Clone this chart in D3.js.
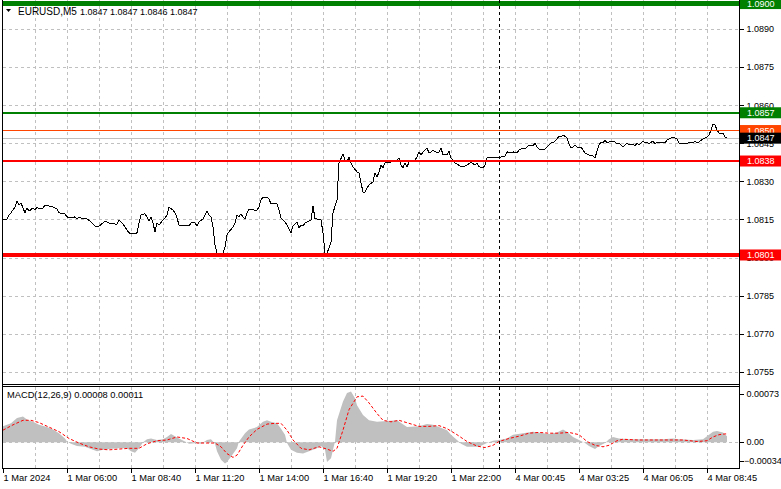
<!DOCTYPE html>
<html><head><meta charset="utf-8">
<script src="https://cdn.jsdelivr.net/npm/d3@7"></script>
<style>
html,body{margin:0;padding:0;background:#fff;}
svg{display:block;font-family:"Liberation Sans",Arial,sans-serif;}
</style>
</head><body><svg id="c" width="781" height="489"></svg>
<script>
// ---------------- DATA ----------------
const symbol = "EURUSD,M5";
const ohlc = [1.0847, 1.0847, 1.0846, 1.0847];
const macdName = "MACD(12,26,9)";
const macdLast = [0.00008, 0.00011];
const timeLabels = ["1 Mar 2024","1 Mar 06:00","1 Mar 08:40","1 Mar 11:20","1 Mar 14:00","1 Mar 16:40","1 Mar 19:20","1 Mar 22:00","4 Mar 00:45","4 Mar 03:25","4 Mar 06:05","4 Mar 08:45"];
const timeLabelBars = [0,32,64,96,128,160,192,224,256,288,320,352];
const gridBars = [16,32,48,64,80,96,112,128,144,160,176,192,208,224,240,256,272,288,304,320,336,352];
const daySeparatorBar = 248;
const priceTicks = [1.0890,1.0875,1.0860,1.0845,1.0830,1.0815,1.0800,1.0785,1.0770,1.0755];
const macdTicks = [0.00073, 0, -0.00034];
const levels = [1.0900, 1.0857, 1.0850, 1.0838, 1.0801];
const currentPrice = 1.0847;
// [bar index, close]
const priceSeries = [[0,1.08148],[2,1.08152],[3,1.08168],[4,1.08176],[6,1.08199],[7,1.08223],[8,1.08207],[9,1.08215],[10,1.08195],[11,1.08176],[12,1.08195],[13,1.08183],[15,1.08195],[16,1.08187],[17,1.08199],[18,1.08191],[20,1.08195],[21,1.08207],[23,1.08203],[25,1.08199],[27,1.08191],[28,1.08176],[31,1.08172],[32,1.08160],[34,1.08156],[36,1.08160],[37,1.08152],[38,1.08160],[40,1.08152],[42,1.08152],[44,1.08140],[46,1.08124],[48,1.08124],[50,1.08136],[51,1.08144],[53,1.08136],[56,1.08132],[57,1.08132],[58,1.08148],[60,1.08132],[61,1.08120],[63,1.08097],[65,1.08093],[67,1.08097],[68,1.08136],[69,1.08168],[71,1.08172],[72,1.08160],[73,1.08144],[74,1.08160],[75,1.08136],[76,1.08101],[77,1.08136],[78,1.08128],[80,1.08148],[81,1.08156],[82,1.08168],[83,1.08199],[85,1.08187],[86,1.08176],[87,1.08156],[88,1.08128],[90,1.08124],[92,1.08128],[93,1.08124],[94,1.08136],[96,1.08136],[97,1.08124],[98,1.08140],[100,1.08152],[101,1.08168],[102,1.08183],[103,1.08168],[104,1.08160],[105,1.08120],[106,1.08049],[107,1.08018],[108,1.08016],[110,1.08018],[111,1.08042],[112,1.08089],[113,1.08101],[115,1.08120],[116,1.08136],[117,1.08168],[118,1.08160],[119,1.08172],[120,1.08160],[121,1.08152],[122,1.08176],[123,1.08191],[125,1.08191],[126,1.08183],[127,1.08187],[128,1.08199],[129,1.08227],[130,1.08238],[132,1.08238],[133,1.08230],[134,1.08211],[136,1.08211],[137,1.08211],[138,1.08187],[139,1.08156],[140,1.08148],[141,1.08140],[142,1.08128],[144,1.08097],[145,1.08124],[147,1.08140],[148,1.08116],[149,1.08128],[150,1.08124],[151,1.08136],[152,1.08140],[154,1.08148],[155,1.08203],[156,1.08152],[157,1.08152],[159,1.08148],[160,1.08097],[161,1.08018],[162,1.08016],[164,1.08061],[165,1.08176],[167,1.08227],[168,1.08372],[170,1.08408],[171,1.08384],[172,1.08376],[173,1.08396],[174,1.08372],[175,1.08357],[177,1.08337],[178,1.08333],[179,1.08294],[180,1.08258],[181,1.08258],[182,1.08274],[183,1.08286],[185,1.08298],[186,1.08333],[187,1.08317],[188,1.08337],[189,1.08364],[190,1.08353],[191,1.08372],[192,1.08376],[193,1.08372],[195,1.08384],[196,1.08376],[197,1.08384],[198,1.08392],[199,1.08364],[200,1.08353],[201,1.08372],[202,1.08357],[203,1.08376],[205,1.08384],[206,1.08384],[207,1.08396],[208,1.08416],[209,1.08404],[210,1.08416],[212,1.08431],[213,1.08412],[214,1.08416],[215,1.08423],[217,1.08412],[218,1.08416],[219,1.08431],[220,1.08404],[222,1.08404],[223,1.08419],[224,1.08392],[226,1.08372],[227,1.08368],[229,1.08357],[231,1.08360],[232,1.08364],[234,1.08376],[236,1.08364],[237,1.08372],[238,1.08357],[240,1.08353],[241,1.08364],[242,1.08392],[243,1.08396],[244,1.08392],[245,1.08396],[247,1.08392],[248,1.08392],[249,1.08396],[251,1.08400],[252,1.08416],[254,1.08412],[255,1.08416],[257,1.08412],[258,1.08423],[260,1.08431],[261,1.08427],[262,1.08435],[263,1.08443],[265,1.08439],[266,1.08451],[267,1.08435],[268,1.08427],[269,1.08423],[271,1.08427],[272,1.08435],[274,1.08451],[275,1.08451],[277,1.08467],[278,1.08479],[279,1.08475],[280,1.08483],[282,1.08471],[283,1.08447],[284,1.08431],[285,1.08435],[286,1.08443],[287,1.08435],[289,1.08435],[290,1.08423],[291,1.08412],[293,1.08404],[295,1.08400],[296,1.08392],[297,1.08419],[298,1.08443],[299,1.08455],[300,1.08451],[301,1.08463],[302,1.08451],[304,1.08459],[306,1.08455],[307,1.08447],[308,1.08451],[310,1.08435],[311,1.08443],[312,1.08451],[313,1.08443],[315,1.08447],[316,1.08439],[317,1.08451],[318,1.08443],[320,1.08459],[321,1.08451],[322,1.08455],[323,1.08447],[325,1.08459],[326,1.08447],[327,1.08455],[328,1.08451],[330,1.08451],[331,1.08451],[332,1.08463],[334,1.08471],[336,1.08471],[337,1.08467],[338,1.08451],[339,1.08447],[341,1.08451],[342,1.08447],[343,1.08455],[345,1.08451],[346,1.08459],[347,1.08451],[348,1.08455],[350,1.08467],[351,1.08471],[352,1.08475],[353,1.08483],[354,1.08502],[355,1.08526],[356,1.08522],[357,1.08502],[358,1.08490],[360,1.08490],[361,1.08475],[362,1.08470]];
// [bar index, MACD main (histogram)]
const macdHistogram = [[0,0.00021],[4,0.00025],[7,0.00032],[10,0.00034],[12,0.00030],[15,0.00027],[18,0.00023],[22,0.00020],[25,0.00017],[28,0.00012],[31,0.00005],[32,0.00001],[34,-0.00002],[37,-0.00005],[41,-0.00006],[44,-0.00009],[47,-0.00012],[50,-0.00010],[53,-0.00009],[58,-0.00008],[62,-0.00008],[64,-0.00012],[66,-0.00014],[68,-0.00008],[70,0.00000],[72,0.00004],[74,0.00005],[77,0.00003],[80,0.00004],[82,0.00007],[84,0.00011],[86,0.00008],[88,0.00005],[91,0.00001],[93,-0.00002],[97,-0.00001],[99,-0.00002],[102,0.00003],[104,0.00004],[106,-0.00002],[107,-0.00012],[109,-0.00023],[111,-0.00028],[112,-0.00026],[114,-0.00019],[117,-0.00008],[118,0.00001],[121,0.00012],[123,0.00017],[127,0.00020],[130,0.00027],[132,0.00029],[134,0.00027],[137,0.00025],[139,0.00018],[141,0.00010],[142,-0.00001],[144,-0.00010],[147,-0.00014],[150,-0.00015],[153,-0.00012],[157,-0.00008],[159,-0.00005],[161,-0.00010],[162,-0.00026],[164,-0.00021],[166,0.00001],[167,0.00029],[170,0.00054],[172,0.00065],[174,0.00067],[176,0.00058],[177,0.00049],[180,0.00036],[183,0.00029],[187,0.00027],[192,0.00028],[197,0.00029],[202,0.00020],[208,0.00021],[212,0.00024],[215,0.00023],[218,0.00020],[222,0.00016],[224,0.00010],[227,0.00003],[229,-0.00002],[232,-0.00006],[238,-0.00006],[242,-0.00001],[245,0.00002],[248,0.00003],[252,0.00005],[255,0.00010],[260,0.00012],[265,0.00014],[270,0.00012],[273,0.00011],[277,0.00013],[280,0.00017],[282,0.00014],[285,0.00007],[288,0.00003],[291,-0.00001],[293,-0.00005],[296,-0.00009],[298,-0.00005],[301,-0.00001],[303,0.00004],[305,0.00007],[308,0.00005],[313,0.00004],[322,0.00004],[330,0.00004],[335,0.00005],[338,0.00004],[345,0.00003],[350,0.00004],[352,0.00008],[355,0.00014],[357,0.00015],[360,0.00013],[362,0.00008]];
// [bar index, MACD signal]
const macdSignal = [[0,0.00016],[5,0.00023],[10,0.00029],[14,0.00029],[18,0.00026],[23,0.00020],[28,0.00014],[33,0.00005],[38,-0.00001],[43,-0.00006],[48,-0.00009],[53,-0.00010],[58,-0.00009],[63,-0.00008],[68,-0.00008],[72,-0.00002],[77,0.00002],[82,0.00003],[87,0.00007],[92,0.00005],[97,-0.00001],[102,-0.00001],[106,-0.00001],[109,-0.00006],[112,-0.00015],[115,-0.00020],[117,-0.00017],[120,-0.00004],[123,0.00007],[127,0.00017],[132,0.00024],[136,0.00025],[139,0.00025],[142,0.00016],[145,0.00003],[149,-0.00008],[153,-0.00010],[158,-0.00006],[162,-0.00009],[165,-0.00012],[167,-0.00008],[170,0.00016],[173,0.00043],[177,0.00060],[180,0.00061],[183,0.00052],[187,0.00038],[190,0.00029],[194,0.00027],[198,0.00029],[203,0.00025],[208,0.00021],[213,0.00021],[218,0.00022],[222,0.00018],[227,0.00010],[232,0.00001],[237,-0.00005],[241,-0.00007],[245,-0.00004],[248,0.00001],[253,0.00005],[258,0.00008],[263,0.00012],[268,0.00013],[273,0.00012],[278,0.00012],[283,0.00013],[288,0.00010],[292,0.00001],[296,-0.00004],[300,-0.00006],[303,-0.00004],[307,0.00002],[310,0.00004],[317,0.00003],[325,0.00003],[333,0.00003],[340,0.00003],[347,0.00001],[352,0.00002],[355,0.00007],[358,0.00010],[361,0.00011],[362,0.00011]];

// ---------------- STYLE / LAYOUT ----------------
const levelColors = ["#008000","#008000","#ff4500","#ff0000","#ff0000"];
const levelWidths = [5,2,1,2,4];
const FS = 9;
const FONT = "Liberation Sans, Arial, sans-serif";
const L = 3, R = 739, mainTop = 0, mainBottom = 384, macdTop = 387, macdBottom = 468;
const gridColor = "#c0c0c0", dash = "3,3";

const svg = d3.select("#c");
const x = d3.scaleLinear().domain([0, 368]).range([L, R]);
const yP = d3.scaleLinear().domain([1.07502, 1.09014]).range([mainBottom, mainTop]);
const yM = d3.scaleLinear().domain([-0.00034, 0.00073]).range([macdBottom, macdTop]);

svg.append("defs").call(d => {
  d.append("clipPath").attr("id","cm").append("rect").attr("x",L).attr("y",mainTop).attr("width",R-L).attr("height",mainBottom-mainTop);
  d.append("clipPath").attr("id","cd").append("rect").attr("x",L).attr("y",macdTop).attr("width",R-L).attr("height",macdBottom-macdTop);
});

const gMain = svg.append("g").attr("clip-path","url(#cm)");
const gMacd = svg.append("g").attr("clip-path","url(#cd)");

// vertical grid (both panels)
[[gMain, mainTop, mainBottom],[gMacd, macdTop, macdBottom]].forEach(([g, t, b]) => {
  g.append("g").selectAll("line").data(gridBars).join("line")
    .attr("x1", d => Math.round(x(d)) + 0.5).attr("x2", d => Math.round(x(d)) + 0.5)
    .attr("y1", t).attr("y2", b)
    .attr("stroke", gridColor).attr("stroke-dasharray", dash).attr("shape-rendering","crispEdges");
});
// horizontal grid main
gMain.append("g").selectAll("line").data(priceTicks).join("line")
  .attr("x1", L).attr("x2", R)
  .attr("y1", d => Math.round(yP(d)) + 0.5).attr("y2", d => Math.round(yP(d)) + 0.5)
  .attr("stroke", gridColor).attr("stroke-dasharray", dash).attr("shape-rendering","crispEdges");

// current price line
gMain.append("line").attr("x1", L).attr("x2", R)
  .attr("y1", Math.round(yP(currentPrice)) + 0.5).attr("y2", Math.round(yP(currentPrice)) + 0.5)
  .attr("stroke", "#c0c0c0").attr("shape-rendering","crispEdges");

// price line
gMain.append("path").datum(priceSeries)
  .attr("d", d3.line().x(d => x(d[0])).y(d => yP(d[1])))
  .attr("fill","none").attr("stroke","#000").attr("stroke-width",1).attr("shape-rendering","crispEdges");

// level lines
gMain.append("g").selectAll("line").data(levels).join("line")
  .attr("x1", L).attr("x2", R)
  .attr("y1", d => yP(d)).attr("y2", d => yP(d))
  .attr("stroke", (d,i) => levelColors[i]).attr("stroke-width", (d,i) => levelWidths[i]).attr("shape-rendering","crispEdges");

// MACD zero line
gMacd.append("line").attr("x1", L).attr("x2", R)
  .attr("y1", Math.round(yM(0)) + 0.5).attr("y2", Math.round(yM(0)) + 0.5)
  .attr("stroke", gridColor).attr("stroke-dasharray", dash).attr("shape-rendering","crispEdges");
// histogram
gMacd.append("path").datum(macdHistogram)
  .attr("d", d3.area().x(d => x(d[0])).y0(yM(0)).y1(d => yM(d[1])))
  .attr("fill", "#c0c0c0");
// signal
gMacd.append("path").datum(macdSignal)
  .attr("d", d3.line().x(d => x(d[0])).y(d => yM(d[1])))
  .attr("fill","none").attr("stroke","#ff0000").attr("stroke-width",1).attr("stroke-dasharray","3,2");

// day separator
svg.append("g").selectAll("line").data([[mainTop, mainBottom],[macdTop, macdBottom]]).join("line")
  .attr("x1", Math.round(x(daySeparatorBar)) + 0.5).attr("x2", Math.round(x(daySeparatorBar)) + 0.5)
  .attr("y1", d => d[0]).attr("y2", d => d[1])
  .attr("stroke", "#000").attr("stroke-dasharray", "3,3").attr("shape-rendering","crispEdges");

// frames
const frame = svg.append("g").attr("stroke","#000").attr("shape-rendering","crispEdges");
frame.append("line").attr("x1", L-0.5).attr("x2", L-0.5).attr("y1", 0).attr("y2", macdBottom+0.5);
frame.append("line").attr("x1", R+0.5).attr("x2", R+0.5).attr("y1", 0).attr("y2", macdBottom+0.5);
frame.append("line").attr("x1", L-0.5).attr("x2", R+0.5).attr("y1", mainBottom+0.5).attr("y2", mainBottom+0.5);
frame.append("line").attr("x1", L-0.5).attr("x2", R+0.5).attr("y1", macdTop-0.5).attr("y2", macdTop-0.5);
frame.append("line").attr("x1", L-0.5).attr("x2", R+0.5).attr("y1", macdBottom+0.5).attr("y2", macdBottom+0.5);

// price axis
const fmt4 = d3.format(".4f");
const ax = svg.append("g").attr("transform", `translate(${R+0.5},0)`)
  .call(d3.axisRight(yP).tickValues(priceTicks).tickSize(4).tickPadding(3).tickFormat(fmt4));
ax.select(".domain").remove();
ax.selectAll("text").attr("font-size", FS).attr("font-family",FONT).attr("fill","#000");
ax.selectAll("line").attr("shape-rendering","crispEdges");

// MACD axis
const mFmt = d => d === 0 ? "0.00" : d3.format(".5f")(d);
const mx = svg.append("g").attr("transform", `translate(${R+0.5},0)`)
  .call(d3.axisRight(yM).tickValues(macdTicks).tickSize(4).tickPadding(3).tickFormat(mFmt));
mx.select(".domain").remove();
mx.selectAll(".tick").attr("transform", d => `translate(0,${yM(d) + (d === macdTicks[0] ? 7 : d === macdTicks[2] ? -7 : 0)})`);
mx.selectAll("text").attr("font-size", FS).attr("font-family",FONT).attr("fill","#000")
  .attr("x", d => d < 0 ? 4.5 : 7);
mx.selectAll("line").attr("shape-rendering","crispEdges");

// level label boxes
const lb = svg.append("g").selectAll("g").data(levels).join("g")
  .attr("transform", d => `translate(${R+1},${yP(d)})`);
lb.append("rect").attr("x",0).attr("y",-5.5).attr("width",42).attr("height",11).attr("fill",(d,i)=>levelColors[i]);
lb.append("text").attr("x",7).attr("dy","0.35em").attr("font-size",FS).attr("font-family",FONT).attr("fill","#fff").text(d => fmt4(d));
// current price label
const cp = svg.append("g").attr("transform", `translate(${R+1},${yP(currentPrice)})`);
cp.append("rect").attr("x",0).attr("y",-5.5).attr("width",42).attr("height",11).attr("fill","#000");
cp.append("text").attr("x",7).attr("dy","0.35em").attr("font-size",FS).attr("font-family",FONT).attr("fill","#fff").text(fmt4(currentPrice));

// time axis
const tx = svg.append("g").attr("transform", `translate(0,${macdBottom+0.5})`)
  .call(d3.axisBottom(x).tickValues(timeLabelBars).tickSize(4).tickPadding(2).tickFormat((d,i) => timeLabels[i]));
tx.select(".domain").remove();
tx.selectAll("text").attr("text-anchor","start").attr("font-size",9.3).attr("font-family",FONT).attr("fill","#000");
tx.selectAll("line").attr("shape-rendering","crispEdges");

// header
svg.append("path").attr("d", d3.line()([[6,9],[11,9],[8.5,12]]) + "Z").attr("fill","#000");
svg.append("text").attr("x",18).attr("y",15).attr("font-size",10).attr("font-family",FONT).text(symbol);
svg.append("text").attr("x",80).attr("y",15).attr("font-size",9).attr("font-family",FONT).text(ohlc.map(fmt4).join(" "));
// MACD label
svg.append("text").attr("x",7).attr("y",398).attr("font-size",9.3).attr("font-family",FONT)
  .text(`${macdName} ${d3.format(".5f")(macdLast[0])} ${d3.format(".5f")(macdLast[1])}`);
</script>
</body></html>
